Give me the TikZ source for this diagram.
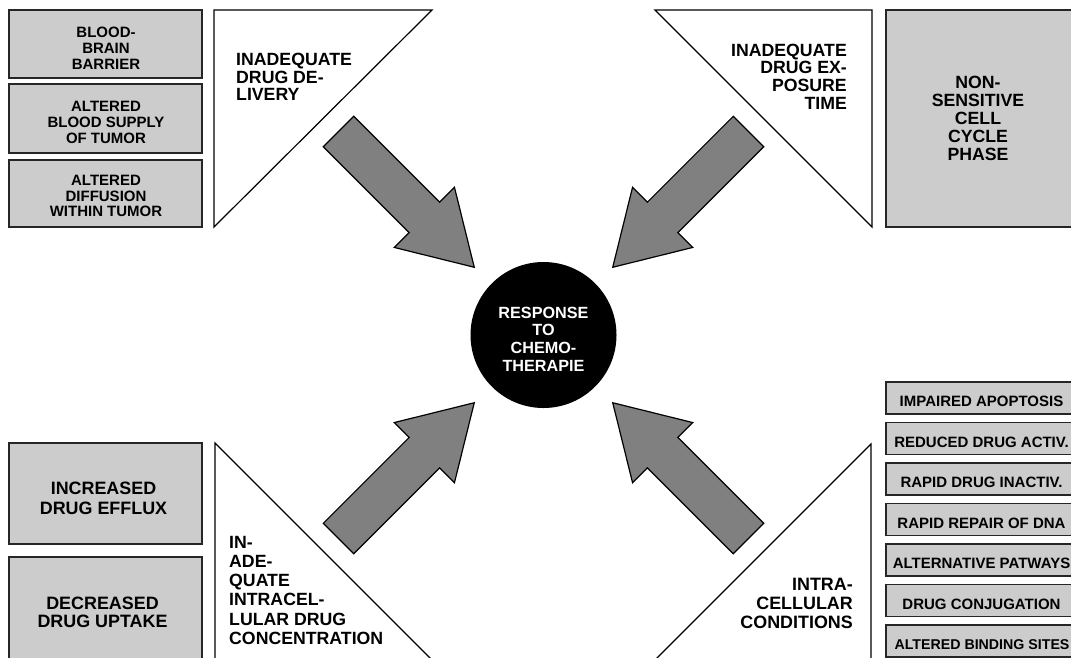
\documentclass[tikz,border=0pt]{standalone}
\usepackage{fontspec}
\setmainfont{Liberation Sans}
\tikzset{
  gbox/.style={rectangle, draw=black!85, line width=1.4pt, fill=black!20, inner sep=0pt},
  tri/.style={draw=black, line width=1.2pt, fill=white, line join=miter},
  arr/.style={draw=black, line width=1.2pt, fill=black!50, line join=miter},
  lbl/.style={inner sep=0pt, align=center},
  fs15/.style={font=\fontsize{15}{15.8}\selectfont\bfseries},
  fs16/.style={font=\fontsize{16.2}{17.7}\selectfont\bfseries},
  pics/fatarrow/.style={code={
    \draw[arr] (0,-21.5) -- (121.5,-21.5) -- (121.5,-42.5) -- (192,0)
      -- (121.5,42.5) -- (121.5,21.5) -- (0,21.5) -- cycle;}}
}
\begin{document}
\begin{tikzpicture}[x=1pt,y=-1pt]
\useasboundingbox (0,0) rectangle (1071,657);
\fill[white] (0,0) rectangle (1071,657);
\clip (0,0) rectangle (1071,657);

% triangles
\draw[tri] (214,10) -- (432,10) -- (214,227) -- cycle;
\draw[tri] (655,10) -- (872,10) -- (872,227) -- cycle;
\draw[tri] (215,443) -- (445,673) -- (215,673) -- cycle;
\draw[tri] (871,444) -- (871,673) -- (642,673) -- cycle;

% arrows
\pic[rotate=-45] at (338.5,131.5) {fatarrow};
\pic[rotate=-135] at (748.5,131.5) {fatarrow};
\pic[rotate=45] at (338.5,538.5) {fatarrow};
\pic[rotate=135] at (748.5,538.5) {fatarrow};

% centre
\node[circle, fill=black, minimum size=146pt, inner sep=0pt] (resp) at (543.5,335) {};
\node[lbl, fs16, text=white] (respt) at (543.5,339) {RESPONSE\\TO\\CHEMO-\\THERAPIE};

% top-left boxes
\node[gbox, minimum width=193pt, minimum height=68pt] (bbb) at (105.5,44) {};
\node[lbl, fs15] (bbbt) at (106,48) {BLOOD-\\BRAIN\\BARRIER};
\node[gbox, minimum width=193pt, minimum height=69pt] (abs) at (105.5,118.5) {};
\node[lbl, fs15] (abst) at (106,122.5) {ALTERED\\BLOOD SUPPLY\\OF TUMOR};
\node[gbox, minimum width=193pt, minimum height=67pt] (adw) at (105.5,193.5) {};
\node[lbl, fs15] (adwt) at (106,196) {ALTERED\\DIFFUSION\\WITHIN TUMOR};

% top-right box
\node[gbox, minimum width=200pt, minimum height=217pt] (nsc) at (986,118.5) {};
\node[lbl, font=\fontsize{17.7}{18}\selectfont\bfseries] (nsct) at (978,118) {NON-\\SENSITIVE\\CELL\\CYCLE\\PHASE};

% triangle labels
\node[inner sep=0pt, align=left, anchor=north west, font=\fontsize{17.7}{17.5}\selectfont\bfseries] (idd) at (236,53) {INADEQUATE\\DRUG DE-\\LIVERY};
\node[inner sep=0pt, align=right, anchor=north east, font=\fontsize{17.7}{17.7}\selectfont\bfseries] (ide) at (847,43.5) {INADEQUATE\\DRUG EX-\\POSURE\\TIME};
\node[inner sep=0pt, align=left, anchor=north west, font=\fontsize{17.7}{19.2}\selectfont\bfseries] (iic) at (229,536) {IN-\\ADE-\\QUATE\\INTRACEL-\\LULAR DRUG\\CONCENTRATION};
\node[inner sep=0pt, align=right, anchor=north east, font=\fontsize{17.9}{19}\selectfont\bfseries] (icc) at (853,578) {INTRA-\\CELLULAR\\CONDITIONS};

% bottom-left boxes
\node[gbox, minimum width=193pt, minimum height=101pt] (ide2) at (105.5,493.5) {};
\node[lbl, font=\fontsize{17.9}{19.2}\selectfont\bfseries] (ide2t) at (103.5,498.3) {INCREASED\\DRUG EFFLUX};
\node[gbox, minimum width=193pt, minimum height=111pt] (ddu) at (105.5,612.5) {};
\node[lbl, font=\fontsize{17.9}{18.5}\selectfont\bfseries] (ddut) at (102.5,612.5) {DECREASED\\DRUG UPTAKE};

% right boxes
\foreach \t [count=\i from 0] in {IMPAIRED APOPTOSIS, REDUCED DRUG ACTIV., RAPID DRUG INACTIV., RAPID REPAIR OF DNA, ALTERNATIVE PATWAYS, DRUG CONJUGATION}{
  \node[gbox, minimum width=194pt, minimum height=32pt] (rb\i) at (983,398+40.5*\i) {};
  \node[lbl, fs15] (rb\i t) at (981.5,401.5+40.5*\i) {\t};
}
\node[gbox, minimum width=194pt, minimum height=32pt] (rb6) at (983,641) {};
\node[lbl, font=\fontsize{14.2}{15}\selectfont\bfseries] (rb6t) at (982,644.5) {ALTERED BINDING SITES};
\end{tikzpicture}
\end{document}
